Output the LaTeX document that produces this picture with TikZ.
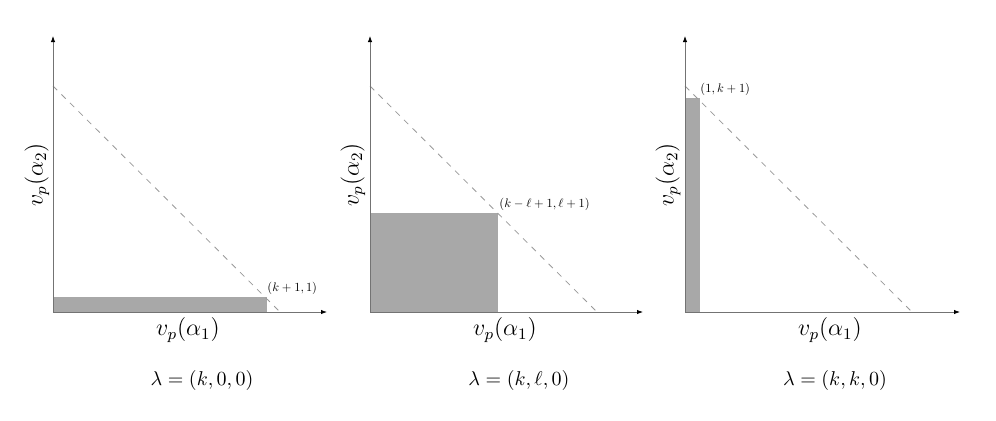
\documentclass[tikz,border=0pt]{standalone}
\usetikzlibrary{arrows.meta}
\definecolor{boxgray}{RGB}{168,168,168}
\begin{document}
\begin{tikzpicture}[x=0.5pt,y=-0.5pt,
  axis/.style={draw=black!55,line width=0.4pt,-{Latex[length=3pt,width=2.2pt,black]}},
  diag/.style={draw=black!40,line width=0.4pt,dash pattern=on 3pt off 3pt},
  region/.style={fill=boxgray,draw=none},
  pt/.style={font=\normalsize,scale=0.62,transform shape,anchor=south west,inner sep=1pt},
  axlab/.style={font=\large,inner sep=0pt},
  lamcap/.style={font=\normalsize,inner sep=0pt}]
\useasboundingbox (0,0) rectangle (996,420);
% panel 1
\coordinate (o1) at (53,312);
\coordinate (y1) at (53,36);
\coordinate (x1) at (327,312);
\coordinate (d1a) at (53,86);
\coordinate (d1b) at (280,312);
\fill[region] (53,297) rectangle (267,312);
\draw[diag] (d1a) -- (d1b);
\draw[axis] (o1) -- (y1);
\draw[axis] (o1) -- (x1);
\node[pt] (p1) at (266,296) {$(k+1,1)$};
\node[axlab] (xl1) at (188,330) {$v_p(\alpha_1)$};
\node[axlab,rotate=90] (yl1) at (37,175) {$v_p(\alpha_2)$};
\node[lamcap] (c1) at (202,380) {$\lambda=(k,0,0)$};
% panel 2
\coordinate (o2) at (370,312);
\coordinate (y2) at (370,36);
\coordinate (x2) at (643,312);
\coordinate (d2a) at (370,86);
\coordinate (d2b) at (597,312);
\fill[region] (370,213) rectangle (498,312);
\draw[diag] (d2a) -- (d2b);
\draw[axis] (o2) -- (y2);
\draw[axis] (o2) -- (x2);
\node[pt] (p2) at (498,212) {$(k-\ell+1,\ell+1)$};
\node[axlab] (xl2) at (505,330) {$v_p(\alpha_1)$};
\node[axlab,rotate=90] (yl2) at (353,175) {$v_p(\alpha_2)$};
\node[lamcap] (c2) at (519,380) {$\lambda=(k,\ell,0)$};
% panel 3
\coordinate (o3) at (685,312);
\coordinate (y3) at (685,36);
\coordinate (x3) at (960,312);
\coordinate (d3a) at (685,86);
\coordinate (d3b) at (912,312);
\fill[region] (685,98) rectangle (700,312);
\draw[diag] (d3a) -- (d3b);
\draw[axis] (o3) -- (y3);
\draw[axis] (o3) -- (x3);
\node[pt] (p3) at (699,97) {$(1,k+1)$};
\node[axlab] (xl3) at (830,330) {$v_p(\alpha_1)$};
\node[axlab,rotate=90] (yl3) at (668,175) {$v_p(\alpha_2)$};
\node[lamcap] (c3) at (835,380) {$\lambda=(k,k,0)$};
\end{tikzpicture}
\end{document}
